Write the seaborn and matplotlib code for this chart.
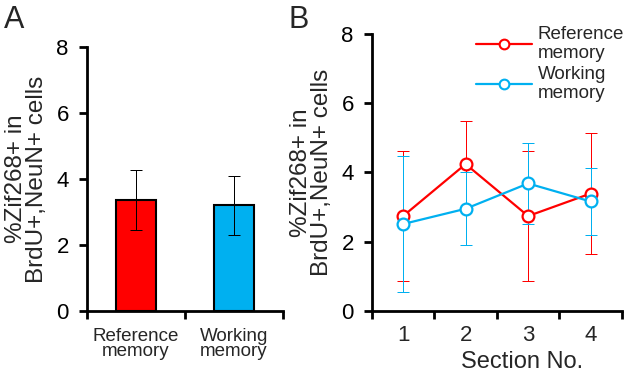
import numpy as np
import pandas as pd
import seaborn as sns
import matplotlib.pyplot as plt
from matplotlib.lines import Line2D

sns.set_style("white")
plt.rcParams["font.family"] = ["Liberation Sans", "DejaVu Sans"]

# panel A: mean +- error
groups = ["Reference\nmemory", "Working\nmemory"]
group_means = [3.36, 3.20]
group_errs = [0.92, 0.90]

# panel B: per section
sections = [1, 2, 3, 4]
ref_means = [2.74, 4.24, 2.74, 3.39]
ref_errs = [1.87, 1.24, 1.88, 1.76]
work_means = [2.51, 2.95, 3.68, 3.16]
work_errs = [1.95, 1.05, 1.16, 0.98]

RED = "#FF0000"
BLUE = "#00B0F0"

fig = plt.figure(figsize=(6.25, 3.76), dpi=100)
axA = fig.add_axes([0.139, 0.173, 0.314, 0.702])
axB = fig.add_axes([0.595, 0.173, 0.400, 0.737])


def style_axis(ax):
    for s in ["top", "right"]:
        ax.spines[s].set_visible(False)
    for s in ["left", "bottom"]:
        ax.spines[s].set_linewidth(2.0)
        ax.spines[s].set_color("black")
    ax.tick_params(axis="both", which="major", direction="out", length=6, width=2.0,
                   labelsize=16, colors="black", left=True, bottom=True)
    ax.tick_params(axis="y", pad=7)
    ax.set_ylim(0, 8)
    ax.set_yticks([0, 2, 4, 6, 8])
    ax.set_ylabel("%Zif268+ in\nBrdU+,NeuN+ cells", fontsize=17.5, labelpad=6, linespacing=0.95)


def draw_err(ax, x, y, err, color, lw):
    eb = ax.errorbar(x, y, yerr=err, fmt="none", ecolor=color, elinewidth=lw,
                     capsize=4.5, capthick=lw, zorder=2)
    for coll in eb.lines[2]:
        coll.set_snap(True)
        coll.set_antialiased(False)
    for cap in eb.lines[1]:
        cap.set_snap(True)
        cap.set_antialiased(False)


# ---- A ----
dfA = pd.DataFrame({"group": groups, "value": group_means})
sns.barplot(data=dfA, x="group", y="value", hue="group", palette=[RED, BLUE],
            width=0.4, edgecolor="black", linewidth=1.5, errorbar=None,
            saturation=1, legend=False, ax=axA)
draw_err(axA, range(len(groups)), group_means, group_errs, "black", 0.72)
style_axis(axA)
axA.set_xlim(-0.5, 1.5)
axA.set_xticks([-0.5, 0.5, 1.5])
axA.set_xticklabels([])
axA.set_xticks(range(len(groups)), minor=True)
axA.set_xticklabels(groups, minor=True, fontsize=13.5, linespacing=0.9)
axA.tick_params(axis="x", which="minor", length=0, pad=12)
axA.set_xlabel("")

# ---- B ----
dfB = pd.DataFrame({
    "section": sections * 2,
    "value": ref_means + work_means,
    "memory": ["Reference\nmemory"] * 4 + ["Working\nmemory"] * 4,
})
draw_err(axB, sections, ref_means, ref_errs, RED, 0.72)
draw_err(axB, sections, work_means, work_errs, BLUE, 0.72)
sns.lineplot(data=dfB, x="section", y="value", hue="memory", palette=[RED, BLUE],
             marker="o", markersize=8.5, markerfacecolor="white", markeredgewidth=1.6,
             linewidth=1.6, legend=False, ax=axB, zorder=3)
for ln in axB.lines:
    if ln.get_marker() == "o":
        ln.set_markeredgecolor(ln.get_color())
style_axis(axB)
axB.set_xlim(0.5, 4.5)
axB.set_xticks([0.5, 1.5, 2.5, 3.5, 4.5])
axB.set_xticklabels([])
axB.set_xticks(sections, minor=True)
axB.set_xticklabels([str(s) for s in sections], minor=True, fontsize=16)
axB.tick_params(axis="x", which="minor", length=0, pad=10)
axB.set_xlabel("Section No.", fontsize=17)
axB.xaxis.set_label_coords(0.6, -0.143)

handles = [Line2D([], [], color=c, marker="o", markersize=7, markerfacecolor="white",
                  markeredgecolor=c, markeredgewidth=1.5, linewidth=1.6) for c in [RED, BLUE]]
axB.legend(handles, ["Reference\nmemory", "Working\nmemory"], loc="upper left",
           bbox_to_anchor=(0.416, 1.03), frameon=False, fontsize=13.5, handlelength=3.0,
           handletextpad=0.3, labelspacing=0.2, borderaxespad=0, borderpad=0)

fig.text(0.006, 0.9255, "A", fontsize=22, va="baseline")
fig.text(0.462, 0.9255, "B", fontsize=22, va="baseline")

fig.savefig("out.png", dpi=100)
